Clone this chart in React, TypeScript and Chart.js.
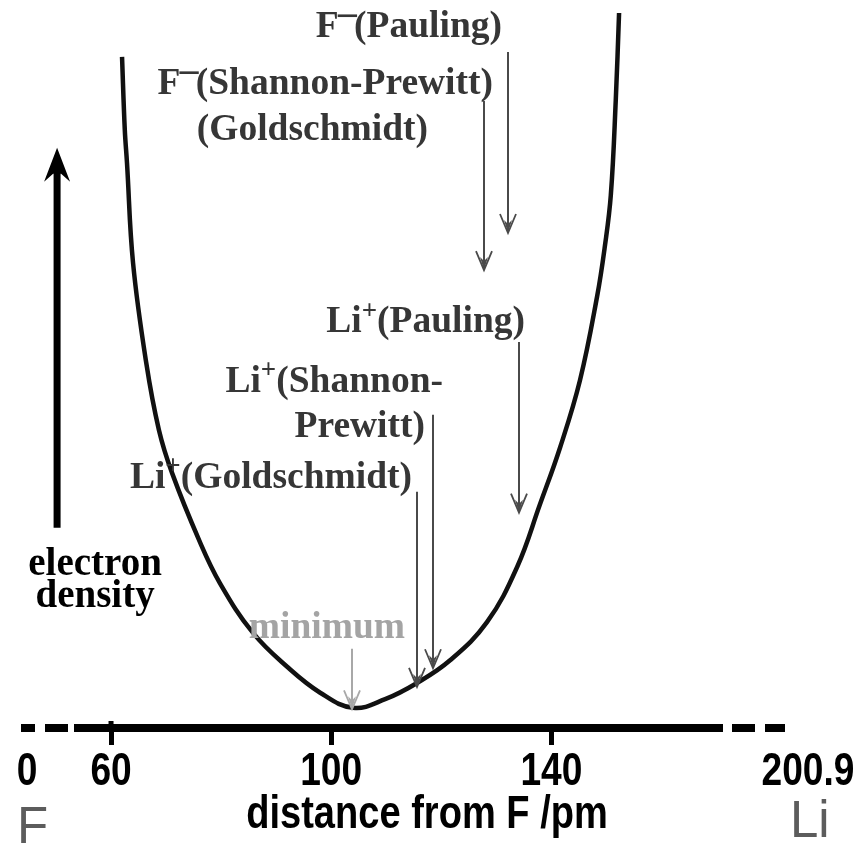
import React, { useEffect, useRef } from 'react';
import { Chart, registerables } from 'chart.js';

Chart.register(...registerables);

// ---- Data (distance from F in pm, electron density in arbitrary units) ----
const curveDistance = [62.0, 62.5, 62.9, 64.0, 66.4, 68.7, 71.1, 76.0, 79.8, 85.8, 92.0, 98.0, 104.0, 109.8, 115.6, 121.6, 128.3, 133.8, 137.9, 141.6, 145.2, 148.3, 149.7, 150.8, 151.7, 152.3];
const curveDensity = [93.2, 83.1, 78.5, 64.6, 50.7, 41.4, 35.4, 26.1, 20.1, 13.2, 8.5, 4.9, 2.8, 4.0, 6.25, 9.4, 14.7, 22.4, 31.0, 39.0, 48.3, 59.9, 66.8, 74.0, 87.2, 99.3];

const axisTicks = [60, 100, 140];
const axisStartLabel = '0';
const axisEndLabel = '200.9';
const axisTitle = 'distance from F /pm';
const leftAtom = 'F';
const rightAtom = 'Li';

// radius markers: arrows pointing down onto the curve
const markerNames = ['F−(Pauling)', 'F−(Shannon-Prewitt)/(Goldschmidt)', 'Li+(Pauling)', 'Li+(Shannon-Prewitt)', 'Li+(Goldschmidt)', 'minimum'];
const markerDistance = [132.1, 127.8, 134.1, 118.5, 115.6, 103.8];
const markerFrom = [93.9, 87.1, 53.6, 43.5, 32.8, 11.0];
const markerTo = [68.75, 63.6, 29.9, 8.3, 5.7, 2.6];
const markerText = [
  ['F^−(Pauling)'],
  ['F^−(Shannon-Prewitt)', '(Goldschmidt)'],
  ['Li^+(Pauling)'],
  ['Li^+(Shannon-', 'Prewitt)'],
  ['Li^+(Goldschmidt)'],
  ['minimum'],
];

// electron density arrow (axis indicator)
const densityArrowDistance = 50.2;
const densityArrowFrom = 27.8;
const densityArrowTo = 80.6;
const densityLabel = ['electron', 'density'];

// ---- Layout / style (not data) ----
const markerLayout = [
  [{ dx: -6, dy: -15 }],
  [{ dx: 9, dy: -7 }, { dx: -56, dy: 39 }],
  [{ dx: 6, dy: -10 }],
  [{ dx: 10, dy: -23 }, { dx: -8, dy: 22 }],
  [{ dx: -5, dy: -4 }],
  [{ dx: 53, dy: -11 }],
];
const markerColors = ['#4a4a4a', '#4a4a4a', '#4a4a4a', '#4a4a4a', '#4a4a4a', '#a8a8a8'];
const textColors = ['#363636', '#363636', '#363636', '#363636', '#363636', '#a4a4a4'];

const SERIF = "'Liberation Serif', 'Times New Roman', 'DejaVu Serif', serif";
const SANS = "'Liberation Sans', Arial, sans-serif";
const SERIF_SIZE = 37.5;
const SANS_SIZE = 47;
const SANS_SQUEEZE = 0.79;

function parseRich(text: string) {
  const segs: { t: string; sup: boolean }[] = [];
  for (let i = 0; i < text.length; i++) {
    if (text[i] === '^') {
      segs.push({ t: text[i + 1], sup: true });
      i++;
    } else if (segs.length && !segs[segs.length - 1].sup) {
      segs[segs.length - 1].t += text[i];
    } else {
      segs.push({ t: text[i], sup: false });
    }
  }
  return segs;
}

function drawRich(ctx: CanvasRenderingContext2D, text: string, x: number, y: number, align: string, size: number, color: string, weight = 'bold') {
  const segs = parseRich(text);
  const fN = `${weight} ${size}px ${SERIF}`;
  const fS = `${weight} ${Math.round(size * 0.72)}px ${SERIF}`;
  const widths = segs.map((s) => {
    ctx.font = s.sup ? fS : fN;
    return ctx.measureText(s.t).width;
  });
  const total = widths.reduce((a, b) => a + b, 0);
  let cx = align === 'right' ? x - total : align === 'center' ? x - total / 2 : x;
  ctx.fillStyle = color;
  ctx.textAlign = 'left';
  ctx.textBaseline = 'alphabetic';
  segs.forEach((s, i) => {
    ctx.font = s.sup ? fS : fN;
    if (s.sup && s.t === '−') {
      // long superscript minus bar
      ctx.fillRect(cx - 1, y - size * 0.6, widths[i] + 4, size * 0.07);
    } else {
      ctx.fillText(s.t, cx, s.sup ? y - size * 0.36 : y);
    }
    cx += widths[i];
  });
}

function drawSans(ctx: CanvasRenderingContext2D, text: string, x: number, y: number, align: CanvasTextAlign, size: number, weight: string, color: string, squeeze: number) {
  ctx.save();
  ctx.translate(x, y);
  ctx.scale(squeeze, 1);
  ctx.font = `${weight} ${size}px ${SANS}`;
  ctx.fillStyle = color;
  ctx.textAlign = align;
  ctx.textBaseline = 'alphabetic';
  ctx.fillText(text, 0, 0);
  ctx.restore();
}

function drawThinArrow(ctx: CanvasRenderingContext2D, x: number, y1: number, y2: number, color: string) {
  ctx.save();
  ctx.strokeStyle = color;
  ctx.fillStyle = color;
  ctx.lineWidth = 2;
  ctx.beginPath();
  ctx.moveTo(x, y1);
  ctx.lineTo(x, y2 - 2);
  ctx.stroke();
  ctx.lineWidth = 1.8;
  ctx.beginPath();
  ctx.moveTo(x - 8, y2 - 19);
  ctx.lineTo(x, y2);
  ctx.lineTo(x + 8, y2 - 19);
  ctx.stroke();
  ctx.beginPath();
  ctx.moveTo(x, y2);
  ctx.lineTo(x - 4, y2 - 13);
  ctx.lineTo(x, y2 - 9);
  ctx.lineTo(x + 4, y2 - 13);
  ctx.closePath();
  ctx.fill();
  ctx.restore();
}

const decorPlugin = {
  id: 'decor',
  afterDraw(chart: any) {
    const { ctx, chartArea } = chart;
    const xs = chart.scales.x;
    const ys = chart.scales.y;
    const axisY = chartArea.bottom;
    const L = chartArea.left;
    const R = chartArea.right;
    ctx.save();

    // broken-axis dashes
    ctx.fillStyle = '#000';
    ctx.fillRect(L - 57, axisY - 4, 14, 8);
    ctx.fillRect(L - 33, axisY - 4, 23, 8);
    ctx.fillRect(R + 10, axisY - 4, 23, 8);
    ctx.fillRect(R + 43, axisY - 4, 20, 8);
    // small upward tick on the first tick
    const p60 = xs.getPixelForValue(axisTicks[0]);
    ctx.fillRect(p60 - 2.5, axisY - 7, 5, 7);

    // tick labels from the scale's ticks
    xs.ticks.forEach((t: any) => {
      drawSans(ctx, String(t.value), xs.getPixelForValue(t.value), axisY + 57, 'center', SANS_SIZE, 'bold', '#000', SANS_SQUEEZE);
    });
    // broken-axis end labels
    drawSans(ctx, axisStartLabel, L - 51, axisY + 57, 'center', SANS_SIZE, 'bold', '#000', SANS_SQUEEZE);
    drawSans(ctx, axisEndLabel, R + 86, axisY + 57, 'center', SANS_SIZE, 'bold', '#000', SANS_SQUEEZE);

    // axis title
    drawSans(ctx, axisTitle, (L + R) / 2 + 27, axisY + 100, 'center', SANS_SIZE, 'bold', '#000', 0.81);

    // atoms
    drawSans(ctx, leftAtom, L - 61, axisY + 115, 'left', SANS_SIZE + 4, 'normal', '#5c5c5c', 1);
    drawSans(ctx, rightAtom, R + 68, axisY + 109, 'left', SANS_SIZE + 4, 'normal', '#5c5c5c', 1);

    // markers
    markerDistance.forEach((d, i) => {
      const x = Math.round(xs.getPixelForValue(d));
      const y1 = ys.getPixelForValue(markerFrom[i]);
      const y2 = ys.getPixelForValue(markerTo[i]);
      drawThinArrow(ctx, x, y1, y2, markerColors[i]);
      markerText[i].forEach((t, j) => {
        const lay = markerLayout[i][j];
        drawRich(ctx, t, x + lay.dx, y1 + lay.dy, 'right', SERIF_SIZE, textColors[i]);
      });
    });

    // electron density arrow
    const ax = xs.getPixelForValue(densityArrowDistance);
    const ay1 = ys.getPixelForValue(densityArrowFrom);
    const ay2 = ys.getPixelForValue(densityArrowTo);
    ctx.strokeStyle = '#000';
    ctx.fillStyle = '#000';
    ctx.lineWidth = 7;
    ctx.beginPath();
    ctx.moveTo(ax, ay1);
    ctx.lineTo(ax, ay2 + 20);
    ctx.stroke();
    ctx.beginPath();
    ctx.moveTo(ax, ay2);
    ctx.lineTo(ax - 13, ay2 + 34);
    ctx.lineTo(ax - 4, ay2 + 26);
    ctx.lineTo(ax + 4, ay2 + 26);
    ctx.lineTo(ax + 13, ay2 + 34);
    ctx.closePath();
    ctx.fill();
    densityLabel.forEach((t, j) => {
      drawRich(ctx, t, ax + 38, ay1 + 47 + j * 32, 'center', 39, '#000');
    });

    ctx.restore();
  },
};

export default function App() {
  const ref = useRef<HTMLCanvasElement | null>(null);
  useEffect(() => {
    if (!ref.current) return;
    const chart = new Chart(ref.current, {
      type: 'line',
      data: {
        datasets: [
          {
            label: 'electron density',
            data: curveDistance.map((x, i) => ({ x, y: curveDensity[i] })),
            borderColor: '#111',
            borderWidth: 4.5,
            pointRadius: 0,
            tension: 0.4,
            fill: false,
            clip: false as any,
          },
        ],
      },
      options: {
        animation: false,
        responsive: false,
        devicePixelRatio: 1,
        events: [],
        layout: { padding: { left: 78, right: 141, top: 8, bottom: 0 } },
        plugins: { legend: { display: false }, tooltip: { enabled: false }, title: { display: false } },
        scales: {
          x: {
            type: 'linear',
            min: 54,
            max: 171,
            afterBuildTicks: (scale: any) => {
              scale.ticks = axisTicks.map((v) => ({ value: v }));
            },
            afterFit: (scale: any) => {
              scale.height = 118;
            },
            border: { display: true, width: 8, color: '#000' },
            grid: { display: true, drawOnChartArea: false, drawTicks: true, tickLength: 17, tickWidth: 5, tickColor: '#000', color: '#000' },
            ticks: { display: false, autoSkip: false },
          },
          y: { type: 'linear', display: false, min: 0, max: 100 },
        },
      },
      plugins: [decorPlugin],
    });
    return () => chart.destroy();
  }, []);
  return (
    <div style={{ position: 'absolute', left: 0, top: 0, width: 863, height: 846, background: '#fff' }}>
      <canvas ref={ref} width={863} height={846} style={{ display: 'block' }} />
    </div>
  );
}
